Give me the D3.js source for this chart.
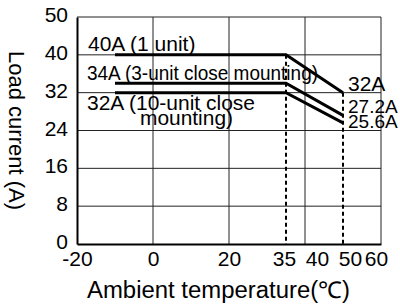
<!DOCTYPE html>
<html lang="en">
<head>
<meta charset="utf-8">
<title>Load current vs ambient temperature</title>
<script src="https://unpkg.com/d3@7/dist/d3.min.js"></script>
<style>
  body { margin: 0; background: #fff; }
  text { font-family: "Liberation Sans", Arial, sans-serif; fill: #000; }
</style>
</head>
<body>
<script>
// data
var xTicks = [-20, 0, 20, 35, 40, 50, 60];
var xGrid = [0, 20, 40, 60];
var yTicks = [0, 8, 16, 24, 32, 40, 50];
var yGrid = [8, 16, 24, 32, 40, 50];

var seriesNames = ["40A (1 unit)", "34A (3-unit close mounting)", "32A (10-unit close", "mounting)"];
var temps = [-10, 35, 50];
var oneUnit = [40, 40, 32];
var threeUnit = [34, 34, 27.2];
var tenUnit = [32, 32, 25.6];
var endLabels = ["32A", "27.2A", "25.6A"];

var w = 400, h = 304;
var margin = { top: 17, right: 19, bottom: 60, left: 77 };

var svg = d3.select("body").append("svg")
  .attr("width", w)
  .attr("height", h);

var x = d3.scaleLinear()
  .domain([-20, 60])
  .range([margin.left, w - margin.right]);

// ticks are evenly spaced, the 40-50 step gets the same room as 8 units
var y = d3.scaleLinear()
  .domain(yTicks)
  .range(yTicks.map(function(d, i) { return h - margin.bottom - i * (h - margin.bottom - margin.top) / (yTicks.length - 1); }));

// grid
svg.append("g").selectAll("line")
  .data(yGrid).enter().append("line")
  .attr("x1", x(-20)).attr("x2", x(60))
  .attr("y1", function(d) { return y(d); })
  .attr("y2", function(d) { return y(d); })
  .attr("stroke", "#222").attr("stroke-width", 1);

svg.append("g").selectAll("line")
  .data(xGrid).enter().append("line")
  .attr("x1", function(d) { return x(d); })
  .attr("x2", function(d) { return x(d); })
  .attr("y1", y(0)).attr("y2", y(50))
  .attr("stroke", "#222").attr("stroke-width", 1);

// axes
var xAxis = svg.append("g")
  .attr("transform", "translate(0," + y(0) + ")")
  .call(d3.axisBottom(x).tickValues(xTicks).tickSize(0).tickPadding(7)
    .tickFormat(function(d) { return String(d); }));
var yAxis = svg.append("g")
  .attr("transform", "translate(" + x(-20) + ",0)")
  .call(d3.axisLeft(y).tickValues(yTicks).tickSize(0).tickPadding(9));

[xAxis, yAxis].forEach(function(a) {
  a.select(".domain").attr("stroke", "#000").attr("stroke-width", 2);
  a.selectAll("text").style("font-size", "21px").attr("fill", "#000");
  a.attr("font-family", null);
});
yAxis.selectAll("text").attr("dy", "0.22em");

// the crowded labels on the right are nudged apart
var xNudge = { 35: -2, 40: 12, 50: 7, 60: -5 };
xAxis.selectAll(".tick text").attr("dx", function(d) { return xNudge[d] || 0; });

// dashed drops at the derating points
svg.append("g").selectAll("line")
  .data([1, 2]).enter().append("line")
  .attr("x1", function(i) { return x(temps[i]); })
  .attr("x2", function(i) { return x(temps[i]); })
  .attr("y1", function(i) { return y(oneUnit[i]); })
  .attr("y2", y(0))
  .attr("stroke", "#000").attr("stroke-width", 2)
  .attr("stroke-dasharray", "4,3");

// curves
var line = d3.line()
  .x(function(d, i) { return x(temps[i]); })
  .y(function(d) { return y(d); });

svg.append("g").selectAll("path")
  .data([oneUnit, threeUnit, tenUnit]).enter().append("path")
  .attr("d", line)
  .attr("fill", "none")
  .attr("stroke", "#000")
  .attr("stroke-width", 3);

// labels
var lab = svg.append("g").style("font-size", "21px");
lab.append("text").attr("x", 88).attr("y", 51).text(seriesNames[0]);
lab.append("text").attr("x", 87).attr("y", 80)
  .attr("textLength", 231).attr("lengthAdjust", "spacingAndGlyphs")
  .text(seriesNames[1]);
lab.append("text").attr("x", 87).attr("y", 110)
  .attr("textLength", 168).attr("lengthAdjust", "spacingAndGlyphs")
  .text(seriesNames[2]);
lab.append("text").attr("x", 140).attr("y", 125)
  .attr("textLength", 93).attr("lengthAdjust", "spacingAndGlyphs")
  .text(seriesNames[3]);

lab.selectAll(".end")
  .data(endLabels).enter().append("text")
  .attr("class", "end")
  .attr("x", x(50) + 5)
  .attr("y", function(d, i) { return [91, 113, 128][i]; })
  .style("font-size", function(d) { return d.length > 3 ? "19px" : "21px"; })
  .text(function(d) { return d; });

// axis titles
svg.append("text")
  .attr("x", 87)
  .attr("y", 298)
  .attr("textLength", 263).attr("lengthAdjust", "spacingAndGlyphs")
  .style("font-size", "23px")
  .text("Ambient temperature(℃)");

svg.append("text")
  .attr("transform", "translate(9," + ((y(0) + y(50)) / 2) + ") rotate(90)")
  .attr("text-anchor", "middle")
  .style("font-size", "22px")
  .text("Load current (A)");
</script>
</body>
</html>
